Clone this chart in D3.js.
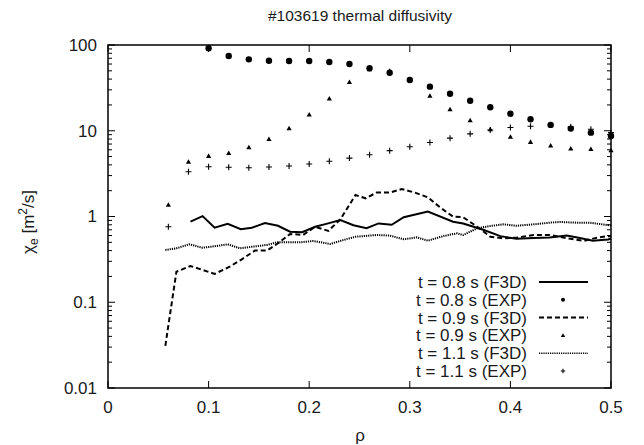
<!DOCTYPE html>
<html>
<head>
<meta charset="utf-8">
<script src="https://cdn.jsdelivr.net/npm/d3@7"></script>
<style>
  body { margin: 0; background: #fff; }
  svg { display: block; font-family: "Liberation Sans", Arial, sans-serif; }
  .tick-label { font-size: 17px; fill: #1a1a1a; }
  .legend-text { font-size: 17px; fill: #1a1a1a; }
</style>
</head>
<body>
<div id="chart"></div>
<script>
// experimental points
const exp08Rho = [0.10, 0.12, 0.14, 0.16, 0.18, 0.20, 0.22, 0.24, 0.26, 0.28, 0.30, 0.32, 0.34, 0.36, 0.38, 0.40, 0.42, 0.44, 0.46, 0.48, 0.50];
const exp08Chi = [91.5, 74.4, 68, 65.6, 65, 65, 63.4, 60, 53.5, 47.5, 39, 32.7, 27, 22.4, 18.8, 15.8, 13.6, 11.7, 10.6, 9.5, 8.7];

const exp09Rho = [0.06, 0.08, 0.10, 0.12, 0.14, 0.16, 0.18, 0.20, 0.22, 0.24, 0.26, 0.28, 0.30, 0.32, 0.34, 0.36, 0.38, 0.40, 0.42, 0.44, 0.46, 0.48, 0.50];
const exp09Chi = [1.37, 4.35, 5.08, 5.5, 6.4, 8.0, 10.7, 15.4, 23.7, 37, 52, 50, 40, 25.6, 17.8, 13.2, 10.4, 8.5, 7.4, 6.7, 6.2, 6.1, 5.9];

const exp11Rho = [0.06, 0.08, 0.10, 0.12, 0.14, 0.16, 0.18, 0.20, 0.22, 0.24, 0.26, 0.28, 0.30, 0.32, 0.34, 0.36, 0.38, 0.40, 0.42, 0.44, 0.46, 0.48, 0.50];
const exp11Chi = [0.76, 3.33, 3.81, 3.75, 3.7, 3.78, 3.88, 4.1, 4.4, 4.8, 5.26, 5.86, 6.5, 7.3, 8.2, 9.2, 10.2, 10.9, 11.3, 11.7, 11.1, 10.4, 9.5];

// F3D simulation curves
const f3d08Rho = [0.082, 0.094, 0.106, 0.119, 0.132, 0.143, 0.156, 0.169, 0.181, 0.193, 0.206, 0.217, 0.231, 0.244, 0.257, 0.269, 0.282, 0.294, 0.318, 0.343, 0.353, 0.373, 0.390, 0.406, 0.423, 0.439, 0.456, 0.469, 0.482, 0.497, 0.500];
const f3d08Chi = [0.87, 1.01, 0.74, 0.82, 0.71, 0.74, 0.84, 0.78, 0.665, 0.655, 0.76, 0.82, 0.91, 0.79, 0.73, 0.83, 0.80, 0.98, 1.14, 0.87, 0.83, 0.70, 0.59, 0.55, 0.56, 0.57, 0.60, 0.56, 0.52, 0.54, 0.55];

const f3d09Rho = [0.057, 0.068, 0.082, 0.106, 0.121, 0.133, 0.146, 0.158, 0.169, 0.181, 0.194, 0.206, 0.219, 0.231, 0.246, 0.256, 0.267, 0.280, 0.292, 0.305, 0.318, 0.330, 0.343, 0.353, 0.367, 0.380, 0.393, 0.406, 0.423, 0.439, 0.456, 0.473, 0.486, 0.497, 0.500];
const f3d09Chi = [0.031, 0.227, 0.265, 0.214, 0.26, 0.317, 0.40, 0.40, 0.487, 0.625, 0.61, 0.76, 0.678, 0.927, 1.78, 1.63, 1.90, 1.90, 2.09, 1.90, 1.67, 1.28, 0.995, 0.98, 0.76, 0.58, 0.557, 0.566, 0.61, 0.61, 0.557, 0.52, 0.565, 0.59, 0.59];

const f3d11Rho = [0.057, 0.068, 0.081, 0.094, 0.108, 0.119, 0.131, 0.144, 0.158, 0.168, 0.181, 0.191, 0.204, 0.221, 0.234, 0.246, 0.267, 0.280, 0.294, 0.307, 0.318, 0.333, 0.347, 0.353, 0.367, 0.380, 0.393, 0.406, 0.423, 0.439, 0.449, 0.466, 0.479, 0.496, 0.500];
const f3d11Chi = [0.407, 0.426, 0.474, 0.432, 0.453, 0.474, 0.426, 0.445, 0.466, 0.50, 0.50, 0.50, 0.518, 0.478, 0.532, 0.581, 0.608, 0.60, 0.542, 0.571, 0.522, 0.59, 0.637, 0.608, 0.728, 0.775, 0.81, 0.78, 0.81, 0.847, 0.863, 0.847, 0.847, 0.796, 0.79];

const xTicks = [0, 0.1, 0.2, 0.3, 0.4, 0.5];
const yTicks = [0.01, 0.1, 1, 10, 100];
const legendLabels = ["t = 0.8 s (F3D)", "t = 0.8 s (EXP)", "t = 0.9 s (F3D)", "t = 0.9 s (EXP)", "t = 1.1 s (F3D)", "t = 1.1 s (EXP)"];

const W = 644, H = 445;
const M = { top: 45, right: 33, bottom: 57, left: 108 };
const pw = W - M.left - M.right, ph = H - M.top - M.bottom;

const svg = d3.select("#chart").append("svg").attr("width", W).attr("height", H);
const g = svg.append("g").attr("transform", `translate(${M.left},${M.top})`);

const x = d3.scaleLinear().domain([0, 0.5]).range([0, pw]);
const y = d3.scaleLog().domain([0.01, 100]).range([ph, 0]);

const zip = (a, b) => a.map((v, i) => [v, b[i]]);

// minor and major ticks, drawn inward on all four sides
const minorY = [];
[0.01, 0.1, 1, 10].forEach(d => { for (let k = 2; k <= 9; k++) minorY.push(d * k); });

const tickG = g.append("g").attr("stroke", "#000").attr("stroke-width", 1);
minorY.forEach(v => {
  tickG.append("line").attr("x1", 0).attr("x2", 4).attr("y1", y(v)).attr("y2", y(v));
  tickG.append("line").attr("x1", pw).attr("x2", pw - 4).attr("y1", y(v)).attr("y2", y(v));
});
yTicks.forEach(v => {
  tickG.append("line").attr("x1", 0).attr("x2", 7).attr("y1", y(v)).attr("y2", y(v));
  tickG.append("line").attr("x1", pw).attr("x2", pw - 7).attr("y1", y(v)).attr("y2", y(v));
});
xTicks.forEach(v => {
  tickG.append("line").attr("x1", x(v)).attr("x2", x(v)).attr("y1", ph).attr("y2", ph - 7);
  tickG.append("line").attr("x1", x(v)).attr("x2", x(v)).attr("y1", 0).attr("y2", 7);
});

g.selectAll(".ylab").data(yTicks).enter().append("text")
  .attr("class", "tick-label")
  .attr("x", -11).attr("y", d => y(d)).attr("dy", "0.35em")
  .attr("text-anchor", "end")
  .text(d => d >= 1 ? d3.format("d")(d) : String(d));

g.selectAll(".xlab").data(xTicks).enter().append("text")
  .attr("class", "tick-label")
  .attr("x", d => x(d)).attr("y", ph + 25)
  .attr("text-anchor", "middle")
  .text(d => d === 0 ? "0" : d.toFixed(1));

// frame
g.append("rect").attr("width", pw).attr("height", ph)
  .attr("fill", "none").attr("stroke", "#000").attr("stroke-width", 1.5);

// lines
const line = d3.line().x(d => x(d[0])).y(d => y(d[1]));
const lineStyles = [
  { data: zip(f3d08Rho, f3d08Chi), dash: null, width: 2 },
  { data: zip(f3d09Rho, f3d09Chi), dash: "5,3", width: 2 },
  { data: zip(f3d11Rho, f3d11Chi), dash: "1.2,1", width: 2 }
];
lineStyles.forEach(s => {
  g.append("path").datum(s.data)
    .attr("d", line)
    .attr("fill", "none").attr("stroke", "#000")
    .attr("stroke-width", s.width)
    .attr("stroke-dasharray", s.dash);
});

// markers
function drawMarker(sel, type, cx, cy, size) {
  if (type === "circle") {
    sel.append("circle").attr("cx", cx).attr("cy", cy).attr("r", size).attr("fill", "#000");
  } else if (type === "triangle") {
    const s = size;
    sel.append("path")
      .attr("d", `M${cx},${cy - s}L${cx + s},${cy + s * 0.75}L${cx - s},${cy + s * 0.75}Z`)
      .attr("fill", "#000");
  } else {
    const s = size;
    sel.append("path")
      .attr("d", `M${cx - s},${cy}H${cx + s}M${cx},${cy - s}V${cy + s}`)
      .attr("stroke", "#000").attr("stroke-width", 1.1);
  }
}
const mk = g.append("g");
zip(exp08Rho, exp08Chi).forEach(d => drawMarker(mk, "circle", x(d[0]), y(d[1]), 3.2));
zip(exp09Rho, exp09Chi).forEach(d => drawMarker(mk, "triangle", x(d[0]), y(d[1]), 2.6));
zip(exp11Rho, exp11Chi).forEach(d => drawMarker(mk, "plus", x(d[0]), y(d[1]), 3));

// legend
const lg = svg.append("g");
const legX = 527, legY0 = 282, legDy = 17.8;
legendLabels.forEach((t, i) => {
  const ly = legY0 + i * legDy;
  lg.append("text").attr("class", "legend-text")
    .attr("x", legX).attr("y", ly).attr("dy", "0.35em")
    .attr("text-anchor", "end").text(t);
  if (i % 2 === 0) {
    const st = lineStyles[i / 2];
    lg.append("line").attr("x1", 539).attr("x2", 588).attr("y1", ly).attr("y2", ly)
      .attr("stroke", "#000").attr("stroke-width", i === 4 ? 1.5 : st.width)
      .attr("stroke-dasharray", st.dash);
  } else {
    const type = ["circle", "triangle", "plus"][(i - 1) / 2];
    drawMarker(lg, type, 563, ly, type === "circle" ? 2 : 2.2);
  }
});

// titles
svg.append("text").attr("x", 360).attr("y", 21).attr("text-anchor", "middle")
  .style("font-size", "15.5px").attr("fill", "#1a1a1a")
  .text("#103619 thermal diffusivity");

svg.append("text").attr("x", 360).attr("y", 441).attr("text-anchor", "middle")
  .style("font-size", "17px").attr("fill", "#1a1a1a").text("ρ");

const yl = svg.append("text")
  .attr("transform", `translate(34,222) rotate(-90)`)
  .attr("text-anchor", "middle")
  .style("font-size", "17px").attr("fill", "#1a1a1a");
yl.append("tspan").text("χ");
yl.append("tspan").attr("dy", 4).style("font-size", "12px").text("e");
yl.append("tspan").attr("dy", -4).text(" [m");
yl.append("tspan").attr("dy", -7).style("font-size", "12px").text("2");
yl.append("tspan").attr("dy", 7).text("/s]");
</script>
</body>
</html>
